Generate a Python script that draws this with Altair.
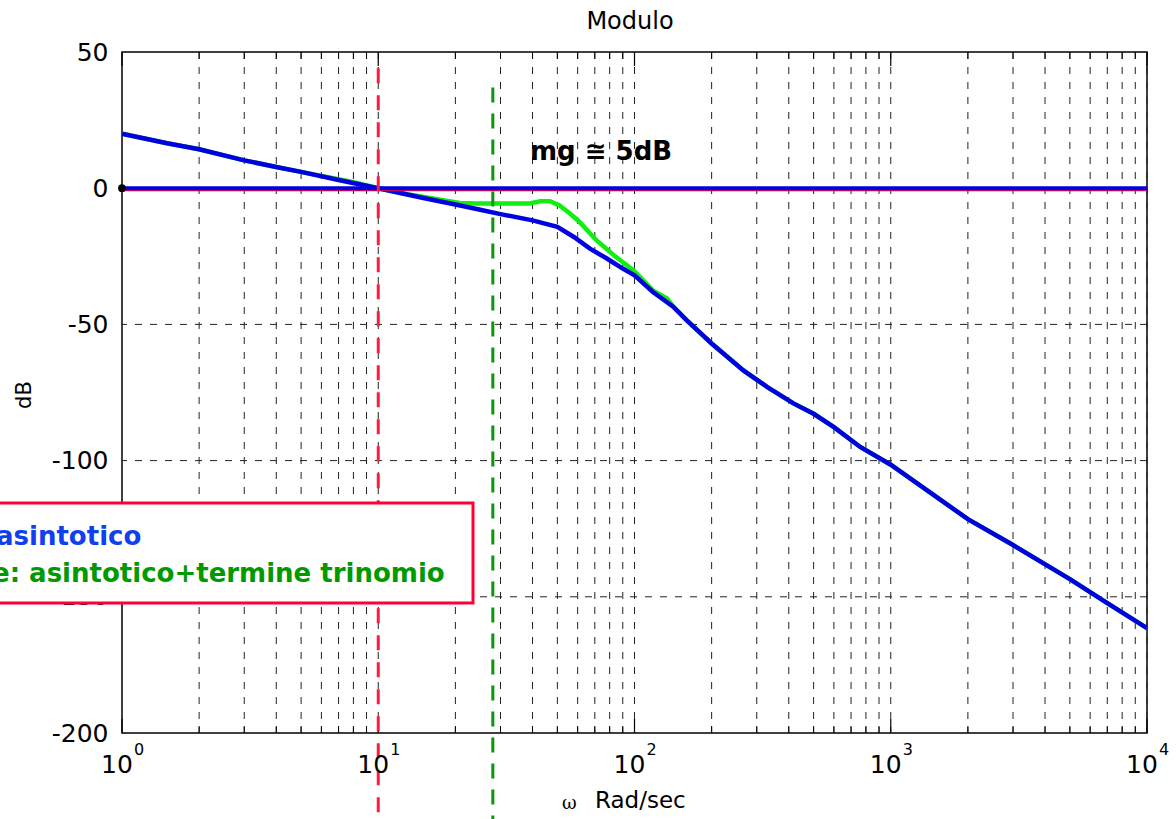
import altair as alt
import pandas as pd

# ---- data ----
blue_w = [1, 1.5, 2, 3, 4, 5, 7, 10, 15, 20, 25, 30, 40, 50, 58, 67, 78, 90, 100,
          118, 142, 160, 200, 266, 330, 417, 500, 600, 760, 1000, 2000, 3000, 5000, 7000, 10000]
blue_db = [20, 16.5, 14.3, 10.2, 7.8, 6.0, 3.0, 0, -3.6, -6.0, -7.9, -9.5, -11.8, -14.2, -17.9,
           -22.2, -25.8, -29.5, -32, -38.1, -43.6, -48.5, -57, -66.9, -73, -79, -82.8, -87.7,
           -95, -101.5, -121.5, -131, -143.5, -152.3, -161.5]

green_w = [1, 1.5, 2, 3, 4, 5, 7, 8, 10, 13, 16.4, 20.8, 24.2, 39, 42.8, 46.8, 51, 56, 61, 71,
           83, 99, 118, 134, 142, 160, 200, 266, 330, 417, 500, 600, 760, 1000, 2000, 3000,
           5000, 7000, 10000]
green_db = [20, 16.5, 14.3, 10.2, 7.8, 6.0, 3.3, 2.2, 0, -2.2, -3.8, -5.4, -5.6, -5.6, -4.8,
            -4.8, -6.3, -9.3, -12.4, -19.1, -24.6, -30.1, -37.5, -40.5, -43.6, -48.5, -57,
            -66.9, -73, -79, -82.8, -87.7, -95, -101.5, -121.5, -131, -143.5, -152.3, -161.5]

grid_w = [m * d for d in [1, 10, 100, 1000] for m in range(2, 11)]
minor_w = [m * d for d in [1, 10, 100, 1000] for m in range(2, 10)]
grid_db = [-150, -100, -50, 0]
decades = [1, 10, 100, 1000, 10000]
dec_base = ["10", "10", "10", "10", "10"]
dec_exp = ["0", "1", "2", "3", "4"]
y_ticks = [-200, -150, -100, -50, 0, 50]

crossover_w = [10]      # red dashed marker
phase_w = [28]          # green dashed marker

FONT = "DejaVu Sans"
W, H = 1025, 681

xs = alt.Scale(type="log", domain=[1, 10000], nice=False)
ys = alt.Scale(domain=[-200, 50], nice=False, zero=False)
yax = alt.Axis(values=y_ticks, title=None, grid=False, ticks=False, tickSize=0,
               domain=False, labelFont=FONT, labelFontSize=25, labelColor="black",
               labelPadding=14, labelExpr="'' + datum.value")


def X(f="w"):
    return alt.X(f"{f}:Q", scale=xs, axis=None)


def Y(f="db"):
    return alt.Y(f"{f}:Q", scale=ys, axis=yax)


blue_df = pd.DataFrame({"w": blue_w, "db": blue_db})
green_df = pd.DataFrame({"w": green_w, "db": green_db})
vgrid_df = pd.DataFrame({"w": grid_w})
minor_df = pd.DataFrame({"w": minor_w})
hgrid_df = pd.DataFrame({"db": grid_db})
dec_df = pd.DataFrame({"w": decades, "base": dec_base, "exp": dec_exp})

vgrid = alt.Chart(vgrid_df).mark_rule(color="#222222", strokeWidth=1, strokeDash=[7, 8]).encode(x=X())
hgrid = alt.Chart(hgrid_df).mark_rule(color="#222222", strokeWidth=1, strokeDash=[7, 8]).encode(y=Y())

tick_bot = alt.Chart(minor_df).mark_rule(color="black", strokeWidth=1).encode(
    x=X(), y=alt.value(H), y2=alt.value(H - 7))
tick_top = alt.Chart(minor_df).mark_rule(color="black", strokeWidth=1).encode(
    x=X(), y=alt.value(0), y2=alt.value(7))
tick_bot_major = alt.Chart(dec_df).mark_rule(color="black", strokeWidth=1.2).encode(
    x=X(), y=alt.value(H), y2=alt.value(H - 14))
tick_top_major = alt.Chart(dec_df).mark_rule(color="black", strokeWidth=1.2).encode(
    x=X(), y=alt.value(0), y2=alt.value(14))

green_line = alt.Chart(green_df).mark_line(color="#11ee11", strokeWidth=4.5).encode(x=X(), y=Y())
blue_line = alt.Chart(blue_df).mark_line(color="#0000e0", strokeWidth=4.5).encode(x=X(), y=Y())

zero_df = pd.DataFrame({"w": [1], "w2": [10000], "db": [0]})
red_zero = alt.Chart(zero_df).mark_rule(color="#ff0033", strokeWidth=2, yOffset=2).encode(
    x=X(), x2="w2:Q", y=Y())
blue_zero = alt.Chart(zero_df).mark_rule(color="#0000e0", strokeWidth=4).encode(
    x=X(), x2="w2:Q", y=Y())

red_v = alt.Chart(pd.DataFrame({"w": crossover_w, "db": [44]})).mark_rule(
    color="#ff1a40", strokeWidth=3, strokeDash=[15, 12]).encode(
    x=X(), y=Y(), y2=alt.value(900))
green_v = alt.Chart(pd.DataFrame({"w": phase_w, "db": [37]})).mark_rule(
    color="#0a960a", strokeWidth=3, strokeDash=[15, 11]).encode(
    x=X(), y=Y(), y2=alt.value(900))

dot = alt.Chart(pd.DataFrame({"w": [1], "db": [0]})).mark_circle(
    color="black", size=60, opacity=1).encode(x=X(), y=Y())

# x tick labels 10^k
lab_base = alt.Chart(dec_df).mark_text(font=FONT, fontSize=25, align="center",
                                       baseline="alphabetic", dx=-5, color="black").encode(
    x=X(), y=alt.value(H + 40), text="base:N")
lab_exp = alt.Chart(dec_df).mark_text(font=FONT, fontSize=16, align="center",
                                      baseline="alphabetic", dx=17, color="black").encode(
    x=X(), y=alt.value(H + 22), text="exp:N")


def txt(s, **kw):
    return alt.Chart(pd.DataFrame({"t": [s]})).mark_text(**kw)


title = txt("Modulo", font=FONT, fontSize=24, align="center", baseline="alphabetic",
            color="black").encode(x=alt.value(508), y=alt.value(-23), text="t:N")
xtitle_w = txt("ω", font="DejaVu Serif", fontSize=18, align="left", baseline="alphabetic",
               color="black").encode(x=alt.value(440), y=alt.value(757), text="t:N")
xtitle = txt("Rad/sec", font=FONT, fontSize=23, align="left", baseline="alphabetic",
             color="black").encode(x=alt.value(473), y=alt.value(756), text="t:N")
ytitle = txt("dB", font=FONT, fontSize=21, angle=270, align="center", baseline="middle",
             color="black").encode(x=alt.value(-97), y=alt.value(343), text="t:N")

mg = txt("mg ≅ 5dB", font=FONT, fontSize=26, fontWeight="bold", align="left",
         baseline="alphabetic", color="black").encode(x=alt.value(408), y=alt.value(108), text="t:N")

box = alt.Chart(pd.DataFrame({"a": [0]})).mark_rect(
    fill="white", stroke="#ff0033", strokeWidth=3).encode(
    x=alt.value(-150), x2=alt.value(351), y=alt.value(451), y2=alt.value(551))
leg1 = txt("asintotico", font=FONT, fontSize=26, fontWeight="bold", align="left",
           baseline="alphabetic", color="#1040ee").encode(x=alt.value(-126), y=alt.value(493), text="t:N")
leg2 = txt("e: asintotico+termine trinomio", font=FONT, fontSize=26, fontWeight="bold",
           align="left", baseline="alphabetic", color="#009900").encode(
    x=alt.value(-130), y=alt.value(530), text="t:N")

chart = alt.layer(
    vgrid, hgrid, tick_bot, tick_top, tick_bot_major, tick_top_major,
    green_line, blue_line, red_zero, blue_zero, red_v, green_v, dot,
    lab_base, lab_exp, title, xtitle_w, xtitle, ytitle, mg, box, leg1, leg2
).properties(
    width=W, height=H,
    autosize=alt.AutoSizeParams(type="none"),
    padding={"left": 122, "top": 52, "right": 29, "bottom": 86},
    background="white",
).configure_view(stroke="black", strokeWidth=1.5)

chart.save("out.html", embed_options={"renderer": "svg", "actions": False})
